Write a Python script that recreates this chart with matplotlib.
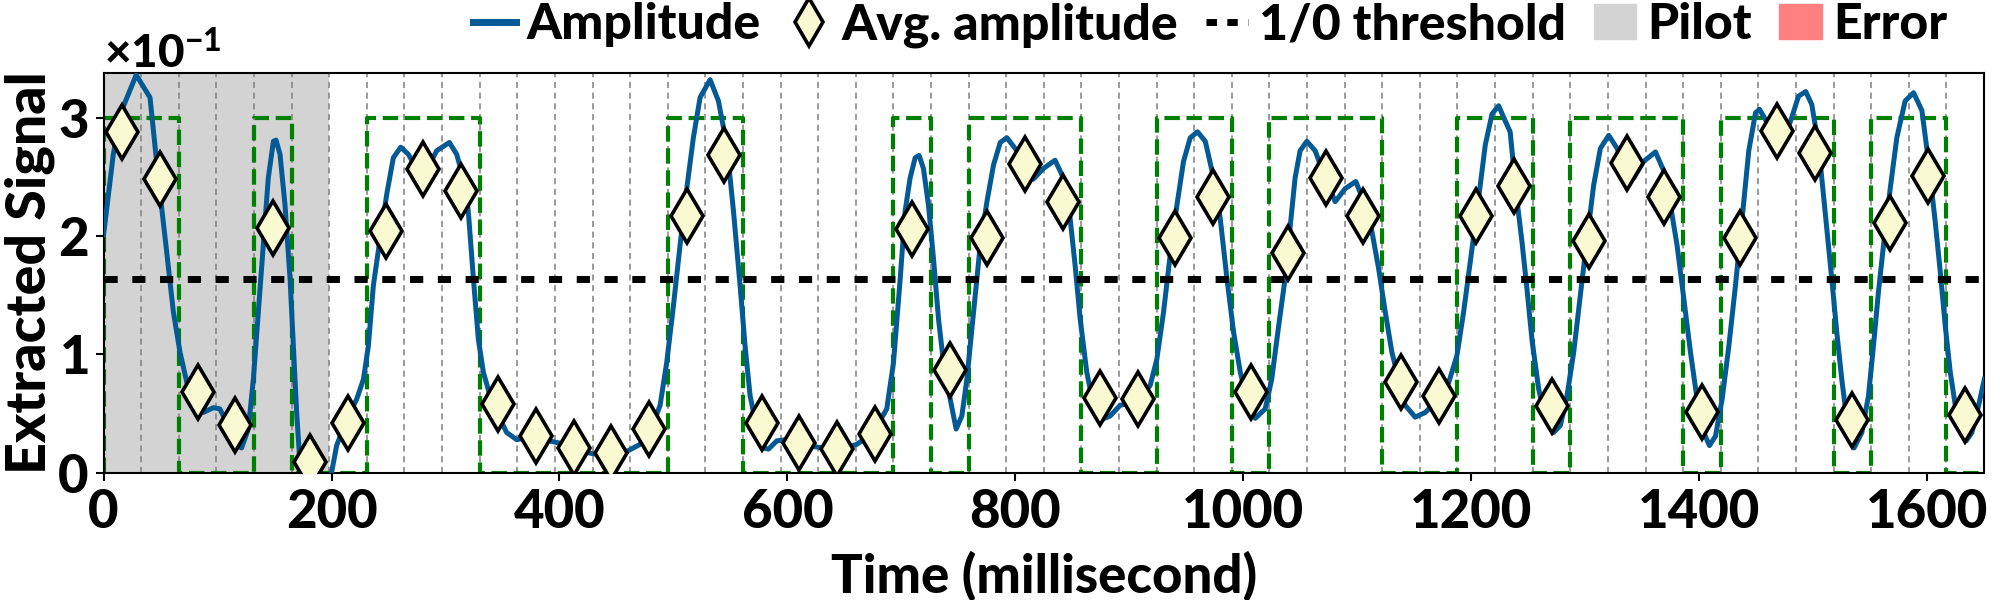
import numpy as np
import matplotlib
matplotlib.use("Agg")
import matplotlib.pyplot as plt
from matplotlib.lines import Line2D
from matplotlib.patches import Patch

plt.rcParams['font.family'] = ['Lato', 'DejaVu Sans']
plt.rcParams['font.weight'] = 'bold'
plt.rcParams['mathtext.fontset'] = 'custom'
plt.rcParams['mathtext.rm'] = 'Lato:black'
plt.rcParams['mathtext.bf'] = 'Lato:black'
plt.rcParams['mathtext.default'] = 'regular'

# amplitude curve (ms, value in units of 1e-1)
amp_t = [0, 8.5, 15.9, 28.6, 40.7, 48, 55.3, 61.2, 67, 74.3, 81.7, 87.5, 96.3, 102,
         109.4, 116.8, 121.1, 127, 131.4, 135.8, 140.2, 144.5, 149, 151.3, 154.8, 159.2,
         163.6, 166.5, 169.4, 172.3, 175.2, 181, 188, 195, 200, 204.5, 213.2, 222, 228,
         232.3, 236.7, 242.6, 248.4, 254.2, 260.7, 267.4, 274.7, 283.5, 292.3, 303.4,
         309.8, 315.7, 320, 324.5, 328.8, 333.2, 339.1, 344.9, 353.7, 362.5, 374.2, 385.9,
         400.5, 412.2, 429.7, 444.3, 459, 470.7, 479.5, 488.3, 494.1, 500, 505.8, 511.7,
         517.5, 523.4, 532.2, 539.5, 546.8, 552.7, 558.5, 562.9, 567.3, 573.2, 579, 583.4,
         590.8, 599.5, 611.2, 616.9, 631.6, 646.2, 660.9, 675.5, 687.2, 693.1, 699, 703.3,
         707.7, 712.1, 715.6, 719.4, 723.8, 728.2, 732.6, 737, 742.9, 748.1, 753.1, 757.5,
         763.4, 769.2, 775.1, 780.9, 786.8, 792.6, 801.4, 810.2, 815.8, 824.6, 834.9, 842.2,
         848.1, 852.5, 856.9, 862.7, 868.6, 875.9, 883.2, 892, 900.8, 909.6, 918.4, 924.2,
         930.1, 935.9, 941.8, 947.6, 953.5, 959.9, 966.7, 974, 979.8, 985.7, 991.5, 997.4,
         1003.2, 1010.5, 1019.3, 1025, 1030.8, 1036.7, 1041.1, 1045.5, 1049.9, 1055.8,
         1063.1, 1071.9, 1080.7, 1089.4, 1098.8, 1107, 1112.9, 1118.7, 1124.6, 1130.4,
         1136.3, 1142.1, 1150.9, 1159.7, 1171.4, 1180.2, 1187.5, 1193.4, 1199.2, 1205.1,
         1212.4, 1218.3, 1224.1, 1230, 1234.2, 1239.6, 1244.6, 1249, 1253.4, 1259.2, 1265.1,
         1272.4, 1278.3, 1284.1, 1290, 1295.8, 1301.7, 1307.5, 1313.4, 1320.7, 1328, 1335.3,
         1342.7, 1351.4, 1361.7, 1369, 1374.9, 1380.7, 1386.6, 1392.4, 1398.3, 1404.1,
         1409.1, 1414.4, 1420.2, 1426.1, 1431.9, 1437.8, 1443.6, 1449.5, 1453, 1460.8, 1466,
         1472.5, 1481.3, 1487.2, 1493.6, 1498.9, 1504.7, 1509.1, 1513.5, 1517, 1520.8,
         1525.2, 1529.6, 1536, 1542.8, 1548.6, 1553, 1557.4, 1561.8, 1567.7, 1573.5, 1580.8,
         1588.2, 1595.5, 1601.3, 1607.2, 1611.6, 1616, 1620.4, 1624.8, 1629.2, 1634.4,
         1639.4, 1645.3, 1650.3]
amp_v = [2.01, 2.69, 3.06, 3.36, 3.17, 2.49, 1.87, 1.36, 1.02, 0.71, 0.54, 0.51, 0.55, 0.54,
         0.40, 0.23, 0.21, 0.37, 0.79, 1.36, 1.92, 2.49, 2.80, 2.81, 2.69, 2.26,
         1.64, 1.07, 0.51, 0.08, -0.2, -0.5, -0.6, -0.35, 0.0, 0.23, 0.45, 0.62, 0.79,
         1.07, 1.58, 1.98, 2.35, 2.66, 2.75, 2.69, 2.57, 2.56, 2.72, 2.79,
         2.69, 2.49, 2.21, 1.64, 1.13, 0.85, 0.65, 0.51, 0.34, 0.28, 0.30, 0.28,
         0.25, 0.20, 0.16, 0.16, 0.18, 0.24, 0.34, 0.57, 0.93, 1.41, 1.92, 2.40,
         2.83, 3.17, 3.32, 3.14, 2.77, 2.21, 1.58, 1.07, 0.65, 0.37, 0.21, 0.20,
         0.27, 0.28, 0.25, 0.23, 0.21, 0.20, 0.24, 0.34, 0.54, 0.93, 1.64, 2.21,
         2.49, 2.66, 2.68, 2.57, 2.26, 1.81, 1.30, 0.93, 0.62, 0.37, 0.48, 0.79,
         1.36, 1.92, 2.29, 2.60, 2.79, 2.83, 2.72, 2.56, 2.48, 2.57, 2.64, 2.49,
         2.15, 1.75, 1.30, 0.85, 0.57, 0.45, 0.48, 0.57, 0.59, 0.62, 0.74, 0.96,
         1.36, 1.84, 2.26, 2.63, 2.83, 2.88, 2.80, 2.49, 2.15, 1.64, 1.19, 0.85,
         0.62, 0.46, 0.54, 0.79, 1.22, 1.64, 2.07, 2.49, 2.72, 2.80,
         2.72, 2.49, 2.29, 2.40, 2.46, 2.26, 2.04, 1.73, 1.36, 1.02,
         0.79, 0.57, 0.47, 0.51, 0.62, 0.76, 0.99, 1.36, 1.78, 2.21,
         2.77, 3.03, 3.10, 2.97, 2.88, 2.35, 1.95, 1.55, 1.12, 0.71, 0.45,
         0.34, 0.40, 0.65, 1.02, 1.50, 1.98, 2.43, 2.74, 2.85, 2.74, 2.57,
         2.49, 2.63, 2.71, 2.55, 2.26, 1.92, 1.47, 1.02, 0.62, 0.34,
         0.23, 0.31, 0.62, 1.07, 1.58, 2.15, 2.72, 3.04, 3.07, 2.94, 2.80,
         2.77, 3.00, 3.18, 3.22, 3.11, 2.77, 2.35, 1.92, 1.58, 1.19,
         0.79, 0.45, 0.21, 0.34, 0.65, 1.07, 1.53, 1.92, 2.40, 2.83, 3.14,
         3.21, 3.06, 2.63, 2.12, 1.70, 1.24, 0.85, 0.57, 0.37, 0.27,
         0.34, 0.57, 0.79]

# average amplitude per bit (units of 1e-1)
avg_vals = [2.88, 2.48, 0.68, 0.40, 2.07, 0.09, 0.42, 2.04, 2.57, 2.38,
            0.58, 0.31, 0.21, 0.17, 0.37, 2.17, 2.68, 0.42, 0.25, 0.20,
            0.33, 2.06, 0.87, 1.98, 2.61, 2.29, 0.63, 0.62, 1.98, 2.33,
            0.68, 1.86, 2.49, 2.17, 0.77, 0.65, 2.17, 2.42, 0.56, 1.96,
            2.62, 2.33, 0.51, 1.98, 2.89, 2.70, 0.45, 2.11, 2.51, 0.49]

# transmitted bits (ground truth)
bits = [1, 1, 0, 0, 1, 0, 0, 1, 1, 1, 0, 0, 0, 0, 0, 1, 1, 0, 0, 0,
        0, 1, 0, 1, 1, 1, 0, 0, 1, 1, 0, 1, 1, 1, 0, 0, 1, 1, 0, 1,
        1, 1, 0, 1, 1, 1, 0, 1, 1, 0]

bit_ms = 33
pilot_bits = 6
high_level = 3.0
threshold = 1.64
x_max = 1650

scale = 1e-1
edges = np.arange(len(bits) + 1) * bit_ms
centers = edges[:-1] + bit_ms / 2

fig, ax = plt.subplots(figsize=(20, 6), dpi=100)
fig.subplots_adjust(left=0.0518, right=0.992, bottom=0.212, top=0.879)

ax.axvspan(0, pilot_bits * bit_ms, color='lightgray', zorder=0, lw=0)
for e in edges[1:-1]:
    ax.axvline(e, color='grey', lw=1.1, ls=(0, (4, 3)), zorder=1)

# ground-truth square wave
wave_x = np.r_[0, np.repeat(edges[:-1], 2), edges[-1], edges[-1]]
wave_y = np.r_[0, np.column_stack([np.r_[0, bits[:-1]], bits]).ravel(), bits[-1], bits[-1]]
ax.plot(wave_x, wave_y * high_level * scale, color='green', lw=3, ls='--', zorder=2)

ax.plot(amp_t, np.array(amp_v) * scale, color='#045a95', lw=3.6, zorder=3)
ax.axhline(threshold * scale, color='black', lw=5, dashes=(1.9, 2.1), zorder=4)
ax.plot(centers, np.array(avg_vals) * scale, ls='none', marker='d', ms=27,
        mfc='lightgoldenrodyellow', mec='black', mew=2.6, zorder=5)

ax.set_xlim(0, x_max)
ax.set_ylim(0, 0.338)
ax.set_xticks([0, 200, 400, 600, 800, 1000, 1200, 1400, 1600])
ax.set_yticks([0, 0.1, 0.2, 0.3])
ax.ticklabel_format(axis='y', style='sci', scilimits=(0, 0), useMathText=True)
ax.yaxis.get_offset_text().set_fontsize(33)
ax.yaxis.get_offset_text().set_fontweight('black')
ax.tick_params(labelsize=38, width=1.5, length=6, pad=5)
for lab in ax.get_xticklabels() + ax.get_yticklabels():
    lab.set_fontweight('black')
for s in ax.spines.values():
    s.set_linewidth(1.5)

ax.set_xlabel('Time (millisecond)', fontsize=38, fontweight='black', labelpad=10)
ax.set_ylabel('Extracted Signal', fontsize=40, fontweight='black')
ax.yaxis.set_label_coords(-0.026, 0.5)

handles = [
    Line2D([], [], color='#045a95', lw=5),
    Line2D([], [], ls='none', marker='d', ms=24, mfc='lightgoldenrodyellow', mec='black', mew=2.6),
    Line2D([], [], color='black', lw=5, dashes=(1.5, 1.5)),
    Patch(color='lightgray'),
    Patch(color='#ff8080'),
]
labels = ['Amplitude', 'Avg. amplitude', '1/0 threshold', 'Pilot', 'Error']
fig.legend(handles, labels, loc='center right', bbox_to_anchor=(0.9735, 0.958), ncol=5,
           frameon=False, handlelength=0.85, handletextpad=0.22,
           columnspacing=0.55, borderaxespad=0, borderpad=0,
           prop={'weight': 'black', 'size': 36})

fig.savefig('out.png', dpi=100)
